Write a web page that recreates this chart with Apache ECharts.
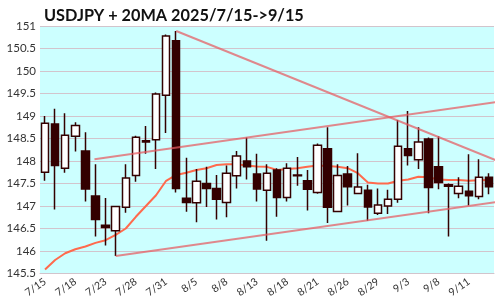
<!DOCTYPE html>
<html><head><meta charset="utf-8">
<script src="https://cdn.jsdelivr.net/npm/echarts@6/dist/echarts.min.js"></script>
<style>html,body{margin:0;padding:0;background:#fff}#c{width:500px;height:300px}</style>
</head><body><div id="c"></div>
<script>
const dates = ['7/15','7/16','7/17','7/18','7/21','7/22','7/23','7/24','7/25','7/28','7/29','7/30','7/31','8/1','8/4','8/5','8/6','8/7','8/8','8/11','8/12','8/13','8/14','8/15','8/18','8/19','8/20','8/21','8/22','8/25','8/26','8/27','8/28','8/29','9/1','9/2','9/3','9/4','9/5','9/8','9/9','9/10','9/11','9/12','9/15'];
const opens  = [147.75,148.82,147.84,148.55,148.22,147.22,146.57,146.45,146.97,147.68,148.42,148.47,149.46,150.67,147.17,147.07,147.50,147.39,147.08,147.67,148.00,147.71,147.35,147.80,147.19,147.69,147.56,147.30,148.27,146.88,147.71,147.28,147.35,146.84,147.00,147.15,148.27,148.03,148.49,147.87,147.47,147.28,147.33,147.21,147.64];
const closes = [148.84,147.90,148.57,148.79,147.38,146.70,146.52,146.99,147.62,148.53,148.45,149.49,150.78,147.39,147.08,147.55,147.39,147.15,147.73,148.11,147.87,147.38,147.73,147.19,147.84,147.67,147.37,148.35,146.97,147.68,147.43,147.42,146.98,147.02,147.15,148.33,148.12,148.42,147.41,147.52,147.44,147.44,147.23,147.64,147.43];
const lows   = [147.56,146.92,147.74,148.21,147.10,146.32,146.12,145.89,146.85,147.54,148.16,147.82,148.62,147.30,146.87,146.64,146.98,146.70,146.75,147.39,147.59,147.10,146.23,146.76,147.10,147.45,146.90,147.27,146.62,146.88,147.01,147.28,146.67,146.80,146.82,147.07,147.90,147.82,146.84,147.37,146.32,147.17,147.01,147.15,147.26];
const highs  = [149.00,149.16,149.06,148.86,148.64,147.93,147.18,147.00,147.93,148.56,148.78,149.52,150.81,150.89,148.07,147.82,147.87,147.69,147.90,148.22,148.52,148.16,147.93,147.84,147.95,148.09,147.80,148.39,148.75,147.93,147.89,148.17,147.47,147.39,147.36,148.91,149.11,148.75,148.52,148.55,147.50,147.64,148.15,148.04,147.73];
const ma20 = [145.59,145.80,145.95,146.04,146.10,146.18,146.24,146.36,146.50,146.76,147.00,147.24,147.56,147.69,147.74,147.80,147.84,147.91,147.93,147.93,147.90,147.88,147.87,147.80,147.82,147.84,147.87,147.90,147.89,147.87,147.84,147.73,147.52,147.50,147.50,147.56,147.59,147.65,147.64,147.59,147.58,147.58,147.56,147.57,147.58];
const trendDown  = [[13, 150.89], [45.09, 147.98]];
const trendUpper = [[4.9, 148.04], [45.09, 149.32]];
const trendLower = [[7, 145.89], [45.09, 147.10]];
const yTicks = {min: 145.5, max: 151, interval: 0.5};
const titleText = 'USDJPY + 20MA 2025/7/15->9/15';

const candles = dates.map((d, i) => [opens[i], closes[i], lows[i], highs[i]]);
const gridColor = '#d2c4cc';
const trendStyle = {color: 'rgba(230,90,95,0.72)', width: 2};
const font = 'Lato, "Open Sans", sans-serif';

const chart = echarts.init(document.getElementById('c'), null, {renderer: 'canvas'});
chart.setOption({
  animation: false,
  backgroundColor: '#ffffff',
  title: {text: titleText, left: 39, top: 3,
    textStyle: {fontFamily: font, fontWeight: 'bold', fontSize: 16.3, color: '#111'}},
  grid: {left: 40, right: 6, top: 26, bottom: 26.5, show: true, backgroundColor: '#ccffff', borderWidth: 0},
  xAxis: [{
    type: 'category', data: dates, boundaryGap: true,
    axisLine: {show: true, lineStyle: {color: gridColor, width: 1}},
    axisTick: {show: false},
    axisLabel: {interval: 2, rotate: 35, margin: 7, fontSize: 10.5, color: '#333', fontFamily: font},
    splitLine: {show: false}
  }, {
    type: 'value', min: -0.5, max: dates.length - 0.5, show: false
  }],
  yAxis: {
    type: 'value', min: yTicks.min, max: yTicks.max, interval: yTicks.interval,
    axisLine: {show: false}, axisTick: {show: false},
    axisLabel: {margin: 4, fontSize: 11.5, color: '#333', fontFamily: font},
    splitLine: {show: true, lineStyle: {color: gridColor, width: 1}}
  },
  series: [
    {type: 'line', name: 'MA20', data: ma20, xAxisIndex: 0, showSymbol: false, symbol: 'none',
     lineStyle: {color: '#ff6a4d', width: 2}, z: 3},
    {type: 'candlestick', data: candles, xAxisIndex: 0, barWidth: 8,
     itemStyle: {color: '#ffffff', color0: '#330000', borderColor: '#330000', borderColor0: '#330000', borderWidth: 1.5}, z: 4},
    {type: 'line', data: trendDown, xAxisIndex: 1, showSymbol: false, symbol: 'none', clip: false, lineStyle: trendStyle, z: 5},
    {type: 'line', data: trendUpper, xAxisIndex: 1, showSymbol: false, symbol: 'none', clip: false, lineStyle: trendStyle, z: 5},
    {type: 'line', data: trendLower, xAxisIndex: 1, showSymbol: false, symbol: 'none', clip: false, lineStyle: trendStyle, z: 5}
  ]
});
</script></body></html>
